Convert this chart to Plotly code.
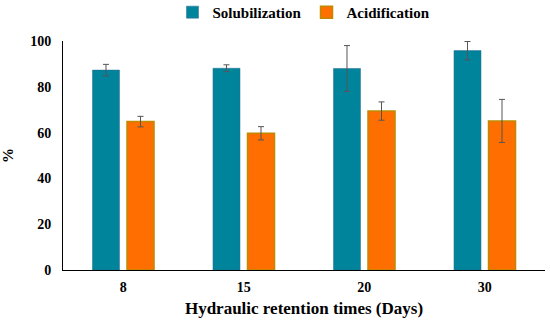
import plotly.graph_objects as go

categories = ["8", "15", "20", "30"]
solubilization = [87.3, 88.1, 88.0, 95.8]
solubilization_err = [2.5, 1.5, 10.0, 4.0]
acidification = [64.8, 59.7, 69.4, 65.1]
acidification_err = [2.3, 2.9, 4.0, 9.4]

font_family = "Times New Roman, Liberation Serif, DejaVu Serif, serif"

fig = go.Figure()
fig.add_trace(go.Bar(
    x=categories, y=solubilization, name="<b>Solubilization</b>",
    marker=dict(color="#00849B", line=dict(color="#2A6A8E", width=0.5)),
    error_y=dict(type="data", array=solubilization_err, color="#555555", thickness=1, width=3),
))
fig.add_trace(go.Bar(
    x=categories, y=acidification, name="<b>Acidification</b>",
    marker=dict(color="#FF6E00", line=dict(color="#C08A00", width=1.5)),
    error_y=dict(type="data", array=acidification_err, color="#555555", thickness=1, width=3),
))

fig.update_layout(
    width=550, height=328,
    margin=dict(l=63, r=5, t=41, b=58, autoexpand=False),
    paper_bgcolor="white", plot_bgcolor="white",
    barmode="group", bargap=0.427, bargroupgap=0.217,
    font=dict(family=font_family, color="black"),
    legend=dict(orientation="h", x=0.5, xanchor="center", y=1.125, yanchor="middle",
                yref="paper", font=dict(size=15, family=font_family),
                traceorder="normal", itemwidth=30),
    showlegend=True,
)
fig.update_xaxes(
    showline=True, linecolor="black", linewidth=1, ticks="", ticklabelstandoff=4,
    tickfont=dict(size=14, family=font_family, weight="bold"),
    title=dict(text="<b>Hydraulic retention times (Days)</b>", font=dict(size=17, family=font_family), standoff=8),
)
fig.update_yaxes(
    range=[0, 100], dtick=20, showgrid=False, zeroline=False,
    showline=True, linecolor="black", linewidth=1, ticks="", ticklabelstandoff=8,
    tickfont=dict(size=14, family=font_family, weight="bold"),
    title=dict(text="<b>%</b>", font=dict(size=15, family=font_family), standoff=12),
)

fig.write_html("out.html", config={"displayModeBar": False},
               post_script="document.body.style.margin='0';")
